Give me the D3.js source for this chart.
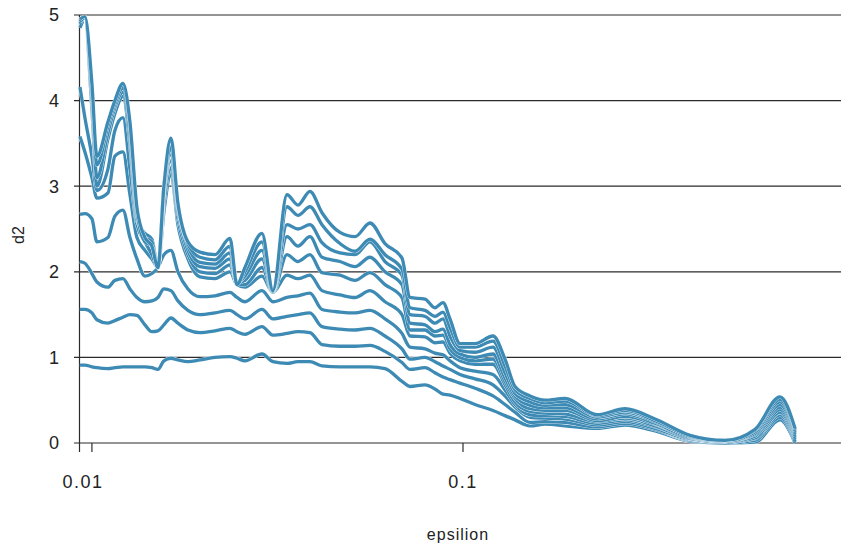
<!DOCTYPE html>
<html><head><meta charset="utf-8">
<script src="https://cdn.jsdelivr.net/npm/d3@7"></script>
<style>body{margin:0;background:#fff}svg{display:block}</style>
</head><body><svg id="c" width="841" height="544"></svg>
<script>
const epsilon = [0.009283,0.009575,0.0100,0.010315,0.011044,0.011533,0.012123,0.012661,0.013223,0.013895,0.014512,0.015062,0.015634,0.016328,0.017053,0.018145,0.019546,0.021454,0.023551,0.024597,0.025847,0.028725,0.030749,0.033548,0.035916,0.038687,0.041687,0.046615,0.051163,0.056154,0.061634,0.068483,0.071969,0.079006,0.084054,0.088333,0.092254,0.098155,0.10773,0.12045,0.12979,0.13809,0.15157,0.16636,0.18836,0.22975,0.27335,0.32935,0.4091,0.5083,0.6124,0.7152,0.7851];
const d2_m1 = [0.91,0.91,0.89,0.88,0.87,0.88,0.89,0.89,0.89,0.89,0.88,0.86,0.96,0.99,0.97,0.95,0.97,1.00,1.01,0.99,0.96,1.04,0.95,0.93,0.95,0.95,0.90,0.89,0.89,0.89,0.87,0.72,0.66,0.68,0.63,0.57,0.56,0.52,0.45,0.38,0.32,0.27,0.20,0.22,0.20,0.17,0.21,0.14,0.02,0.00,0.01,0.27,0.00];
const d2_m2 = [1.56,1.56,1.52,1.44,1.40,1.43,1.47,1.50,1.49,1.38,1.30,1.31,1.38,1.46,1.40,1.32,1.29,1.31,1.34,1.30,1.27,1.36,1.26,1.28,1.30,1.29,1.15,1.13,1.13,1.14,1.07,0.94,0.86,0.88,0.82,0.77,0.74,0.70,0.64,0.55,0.45,0.36,0.24,0.25,0.24,0.19,0.23,0.16,0.03,0.00,0.03,0.30,0.02];
const d2_m3 = [2.12,2.10,1.98,1.88,1.82,1.90,1.92,1.80,1.70,1.65,1.66,1.70,1.80,1.78,1.66,1.55,1.50,1.52,1.55,1.50,1.45,1.56,1.45,1.48,1.50,1.52,1.36,1.33,1.32,1.34,1.25,1.10,0.98,1.00,0.95,0.90,0.86,0.80,0.75,0.68,0.55,0.42,0.30,0.29,0.28,0.21,0.25,0.17,0.04,0.01,0.05,0.33,0.04];
const d2_m4 = [2.67,2.68,2.62,2.35,2.40,2.65,2.72,2.40,2.15,1.95,1.98,2.05,2.20,2.25,2.00,1.80,1.71,1.72,1.76,1.70,1.65,1.78,1.65,1.70,1.72,1.75,1.56,1.53,1.52,1.55,1.45,1.28,1.12,1.10,1.05,1.03,0.96,0.88,0.84,0.80,0.62,0.45,0.33,0.32,0.31,0.23,0.27,0.19,0.05,0.01,0.06,0.36,0.06];
const d2_m5 = [3.58,3.40,3.10,2.86,2.92,3.35,3.40,2.90,2.40,2.25,2.15,2.05,2.70,3.15,2.55,2.15,1.94,1.92,2.00,1.85,1.82,1.95,1.76,1.96,1.92,1.96,1.78,1.73,1.70,1.78,1.65,1.50,1.25,1.24,1.17,1.18,1.05,0.96,0.92,0.92,0.68,0.48,0.37,0.35,0.34,0.25,0.29,0.20,0.05,0.01,0.08,0.39,0.08];
const d2_m6 = [4.16,3.80,3.35,2.95,3.20,3.65,3.80,3.20,2.55,2.35,2.20,2.05,2.80,3.22,2.62,2.20,2.00,1.98,2.08,1.86,1.85,2.05,1.76,2.20,2.12,2.20,1.99,1.96,1.90,1.99,1.85,1.70,1.32,1.32,1.25,1.26,1.10,1.00,0.96,0.98,0.72,0.52,0.40,0.38,0.38,0.26,0.31,0.22,0.06,0.02,0.10,0.42,0.10];
const d2_m7 = [4.85,4.95,3.90,3.00,3.55,3.85,4.05,3.50,2.60,2.45,2.38,2.05,2.90,3.31,2.70,2.25,2.06,2.04,2.15,1.87,1.90,2.15,1.76,2.41,2.30,2.41,2.17,2.12,2.06,2.17,2.00,1.85,1.40,1.38,1.30,1.33,1.15,1.04,1.00,1.04,0.76,0.55,0.44,0.41,0.41,0.28,0.34,0.23,0.07,0.02,0.11,0.45,0.12];
const d2_m8 = [4.90,4.96,4.00,3.10,3.62,3.92,4.10,3.60,2.65,2.40,2.35,2.05,2.95,3.39,2.75,2.30,2.11,2.09,2.22,1.87,1.95,2.25,1.77,2.55,2.50,2.55,2.34,2.22,2.20,2.35,2.12,1.96,1.50,1.48,1.40,1.45,1.25,1.08,1.06,1.12,0.82,0.58,0.48,0.44,0.45,0.30,0.36,0.25,0.08,0.02,0.13,0.48,0.14];
const d2_m9 = [4.92,4.97,4.10,3.25,3.70,3.96,4.15,3.70,2.70,2.35,2.30,2.05,3.00,3.46,2.78,2.33,2.17,2.14,2.30,1.86,2.00,2.35,1.77,2.76,2.66,2.76,2.55,2.33,2.24,2.38,2.20,2.03,1.58,1.55,1.48,1.53,1.35,1.12,1.12,1.19,0.90,0.62,0.52,0.47,0.49,0.32,0.38,0.26,0.08,0.03,0.15,0.51,0.16];
const d2_m10 = [4.95,4.98,4.20,3.35,3.75,4.00,4.20,3.75,2.75,2.40,2.30,2.05,3.00,3.56,2.80,2.35,2.23,2.20,2.39,1.85,2.05,2.45,1.78,2.90,2.78,2.94,2.69,2.46,2.41,2.57,2.33,2.16,1.70,1.68,1.58,1.64,1.45,1.16,1.16,1.25,0.98,0.66,0.55,0.50,0.52,0.33,0.40,0.28,0.09,0.03,0.16,0.54,0.17];
const seriesList = [d2_m1,d2_m2,d2_m3,d2_m4,d2_m5,d2_m6,d2_m7,d2_m8,d2_m9,d2_m10];
const xTickValues = [0.01, 0.1];
const xTickLabels = ["0.01", "0.1"];
const yTickValues = [0,1,2,3,4,5];

const svg = d3.select("#c");
const x = d3.scaleLog().domain([0.00923, 1.044]).range([79, 841]);
const y = d3.scaleLinear().domain([0, 5]).range([443, 15]);
const font = "Liberation Sans, Arial, sans-serif";

// gridlines + y ticks
const gy = svg.append("g");
gy.selectAll("line").data(yTickValues).join("line")
  .attr("x1", 74).attr("x2", 841)
  .attr("y1", d => y(d)).attr("y2", d => y(d))
  .attr("stroke", "#2b2b2b").attr("stroke-width", 1.2);
gy.selectAll("text").data(yTickValues).join("text")
  .attr("x", 59).attr("y", d => y(d)).attr("dy", "0.36em")
  .attr("text-anchor", "end").attr("font-family", font).attr("font-size", 18)
  .attr("fill", "#222").text(d => d);
// y axis line
svg.append("line").attr("x1", 79.5).attr("x2", 79.5).attr("y1", y(5)).attr("y2", 452)
  .attr("stroke", "#2b2b2b").attr("stroke-width", 1.2);
// x ticks
const gx = svg.append("g");
gx.selectAll("line").data(xTickValues).join("line")
  .attr("x1", d => x(d)).attr("x2", d => x(d)).attr("y1", 443).attr("y2", 452)
  .attr("stroke", "#2b2b2b").attr("stroke-width", 1.2);
gx.selectAll("text").data(xTickValues).join("text")
  .attr("x", (d, i) => x(d) + (i === 0 ? -9 : 0)).attr("y", 488)
  .attr("text-anchor", "middle").attr("font-family", font).attr("font-size", 18)
  .attr("letter-spacing", "1.5px").attr("fill", "#222").text((d, i) => xTickLabels[i]);

// lines
const line = d3.line().x((d, i) => x(epsilon[i])).y(d => y(d)).curve(d3.curveMonotoneX);
const gl = svg.append("g");
seriesList.forEach(s => {
  gl.append("path").attr("d", line(s)).attr("fill", "none")
    .attr("stroke", "#fff").attr("stroke-width", 3.9).attr("stroke-linejoin", "round");
  gl.append("path").attr("d", line(s)).attr("fill", "none")
    .attr("stroke", "#3d8ab4").attr("stroke-width", 3.3).attr("stroke-linejoin", "round");
});

// axis titles
svg.append("text").attr("x", 458).attr("y", 540).attr("text-anchor", "middle")
  .attr("font-family", font).attr("font-size", 16).attr("letter-spacing", "1px")
  .attr("fill", "#222").text("epsilion");
svg.append("text").attr("transform", "translate(24,235) rotate(-90)").attr("text-anchor", "middle")
  .attr("font-family", font).attr("font-size", 16).attr("fill", "#222").text("d2");
</script></body></html>
